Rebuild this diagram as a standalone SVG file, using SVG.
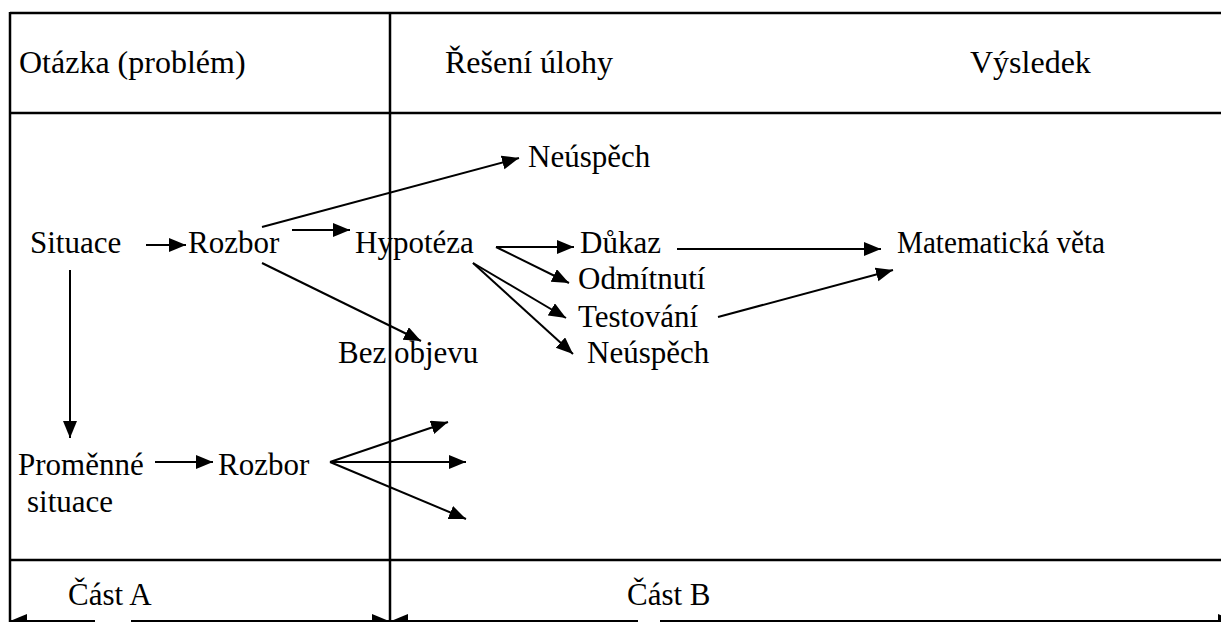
<svg xmlns="http://www.w3.org/2000/svg" width="1221" height="622" viewBox="0 0 1221 622">
<style>
text{font-family:"Liberation Serif","Times New Roman",serif;font-size:31px;fill:#000}
.h{font-size:32px}
.frame line{stroke:#000;stroke-width:2.5}
.conn line{stroke:#000;stroke-width:2;fill:none}
.a{marker-end:url(#ah)}
.s{marker-start:url(#as)}
</style>
<defs>
<marker id="ah" markerUnits="userSpaceOnUse" markerWidth="19" markerHeight="15" refX="17" refY="7" orient="auto"><path d="M0,0 L17,7 L0,14 z" fill="#000"/></marker>
<marker id="as" markerUnits="userSpaceOnUse" markerWidth="19" markerHeight="15" refX="17" refY="7" orient="auto-start-reverse"><path d="M0,0 L17,7 L0,14 z" fill="#000"/></marker>
</defs>
<rect width="1221" height="622" fill="#fff"/>
<g id="frame" class="frame">
<line x1="10" y1="13" x2="1221" y2="13"/>
<line x1="10" y1="113" x2="1221" y2="113"/>
<line x1="10" y1="560" x2="1221" y2="560"/>
<line x1="10" y1="12" x2="10" y2="622"/>
<line x1="390" y1="12" x2="390" y2="622"/>
</g>
<g id="headers">
<text class="h" x="19" y="73">Otázka (problém)</text>
<text class="h" x="445" y="73">Řešení úlohy</text>
<text class="h" x="970" y="73">Výsledek</text>
</g>
<g id="n-situace"><text x="30" y="253">Situace</text></g>
<g id="n-rozbor1"><text x="188" y="253">Rozbor</text></g>
<g id="n-hypoteza"><text x="355" y="253">Hypotéza</text></g>
<g id="n-neuspech1"><text x="528" y="167">Neúspěch</text></g>
<g id="n-bezobjevu"><text x="338" y="363">Bez objevu</text></g>
<g id="n-dukaz"><text x="580" y="253">Důkaz</text></g>
<g id="n-odmitnuti"><text x="578" y="289">Odmítnutí</text></g>
<g id="n-testovani"><text x="578" y="327">Testování</text></g>
<g id="n-neuspech2"><text x="587" y="363">Neúspěch</text></g>
<g id="n-veta"><text x="897" y="253" textLength="208" lengthAdjust="spacingAndGlyphs">Matematická věta</text></g>
<g id="n-promenne"><text x="18" y="475">Proměnné</text><text x="27" y="512">situace</text></g>
<g id="n-rozbor2"><text x="218" y="475">Rozbor</text></g>
<g id="n-castA"><text x="68" y="605">Část A</text></g>
<g id="n-castB"><text x="627" y="605">Část B</text></g>
<g id="connectors" class="conn">
<line class="a" x1="146" y1="245" x2="186" y2="245"/>
<line class="a" x1="292" y1="230" x2="350" y2="230"/>
<line class="a" x1="262" y1="227" x2="519" y2="158"/>
<line class="a" x1="262" y1="263" x2="421" y2="341"/>
<line class="a" x1="496" y1="247" x2="574" y2="247"/>
<line class="a" x1="496" y1="247" x2="569" y2="283"/>
<line class="a" x1="473" y1="263" x2="566" y2="318"/>
<line class="a" x1="473" y1="263" x2="573" y2="354"/>
<line class="a" x1="677" y1="249" x2="881" y2="249"/>
<line class="a" x1="718" y1="317" x2="893" y2="270"/>
<line class="a" x1="70" y1="270" x2="70" y2="438"/>
<line class="a" x1="155" y1="462" x2="213" y2="462"/>
<line class="a" x1="330" y1="462" x2="448" y2="422"/>
<line class="a" x1="330" y1="462" x2="466" y2="462"/>
<line class="a" x1="330" y1="462" x2="466" y2="519"/>
<line class="s" x1="10" y1="621" x2="95" y2="621"/>
<line class="a" x1="131" y1="621" x2="389" y2="621"/>
<line class="s" x1="391" y1="621" x2="638" y2="621"/>
<line class="a" x1="660" y1="621" x2="1235" y2="621"/>
</g>
</svg>
